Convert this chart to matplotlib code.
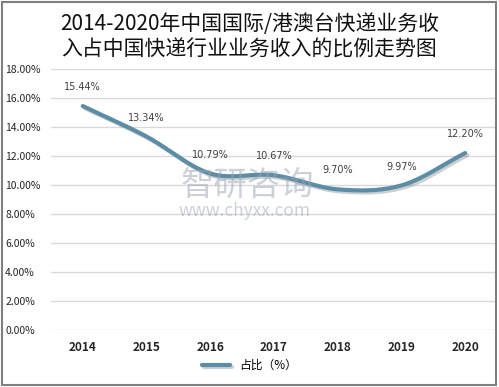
import numpy as np
import matplotlib
matplotlib.use('Agg')
import matplotlib.pyplot as plt
import matplotlib.patheffects as pe
from matplotlib.patches import Rectangle

plt.rcParams['font.family'] = ['Noto Sans CJK SC', 'DejaVu Sans']

# data
years = ['2014', '2015', '2016', '2017', '2018', '2019', '2020']
share = [15.44, 13.34, 10.79, 10.67, 9.70, 9.97, 12.20]
yticks = [0, 2, 4, 6, 8, 10, 12, 14, 16, 18]
title = '2014-2020年中国国际/港澳台快递业务收\n入占中国快递行业业务收入的比例走势图'
legend_label = '占比（%）'

line_color = '#5b8ea6'


def catmull_rom(x, y, n=30):
    # smooth curve through the points, like excel's smoothed line
    x = np.asarray(x, float)
    y = np.asarray(y, float)
    px = np.concatenate([[2 * x[0] - x[1]], x, [2 * x[-1] - x[-2]]])
    py = np.concatenate([[2 * y[0] - y[1]], y, [2 * y[-1] - y[-2]]])
    xs, ys = [], []
    t = np.linspace(0, 1, n)
    for i in range(1, len(px) - 2):
        for p, out in ((px, xs), (py, ys)):
            p0, p1, p2, p3 = p[i - 1], p[i], p[i + 1], p[i + 2]
            out.extend(0.5 * (2 * p1 + (-p0 + p2) * t
                              + (2 * p0 - 5 * p1 + 4 * p2 - p3) * t ** 2
                              + (-p0 + 3 * p1 - 3 * p2 + p3) * t ** 3))
    return np.array(xs), np.array(ys)


fig = plt.figure(figsize=(4.99, 3.87), dpi=100)
ax = fig.add_axes([0.102, 0.147, 0.894, 0.675])

xpos = np.arange(len(years))
sx, sy = catmull_rom(xpos, share)
ax.plot(sx, sy, color=line_color, lw=3.0, solid_capstyle='round', zorder=3,
        label=legend_label,
        path_effects=[pe.SimpleLineShadow(offset=(1.5, -1.5), alpha=0.35, shadow_color='#777777'),
                      pe.Normal()])

for x, v in zip(xpos, share):
    ax.annotate(f'{v:.2f}%', (x, v), xytext=(0, 10), textcoords='offset points',
                ha='center', va='bottom', fontsize=7, color='#404040',
                family=['DejaVu Sans'])

ax.set_xlim(-0.5, len(years) - 0.5)
ax.set_ylim(0, 18)
ax.set_yticks(yticks)
ax.set_yticklabels([f'{v:.2f}%' for v in yticks], fontsize=7.5, color='#262626')
ax.set_xticks(xpos)
ax.set_xticklabels(years, fontsize=8.5, fontweight='bold', color='#262626')
ax.tick_params(length=0, pad=8)
ax.tick_params(axis='y', pad=33)
for lbl in ax.get_yticklabels():
    lbl.set_horizontalalignment('left')
ax.grid(axis='y', color='#d9d9d9', lw=1)
ax.set_axisbelow(True)
for s in ax.spines.values():
    s.set_visible(False)

# watermark
fig.text(0.495, 0.52, '智研咨询', fontsize=24, color='#9aa3b5', alpha=0.5,
         ha='center', va='center')
fig.text(0.49, 0.455, 'www.chyxx.com', fontsize=12.5, color='#9aa3b5', alpha=0.5,
         ha='center', va='center')

fig.text(0.5, 0.905, title, ha='center', va='center', fontsize=15,
         fontweight='medium', color='#111111', linespacing=1.2)

fig.legend(loc='center', bbox_to_anchor=(0.5, 0.055), frameon=False,
           handlelength=2.4, prop={'size': 8.5})

fig.patches.append(Rectangle((0.004, 0.006), 0.99, 0.988, transform=fig.transFigure,
                             fill=False, edgecolor='#7f7f7f', lw=1.5))

fig.savefig('out.png', dpi=100)
